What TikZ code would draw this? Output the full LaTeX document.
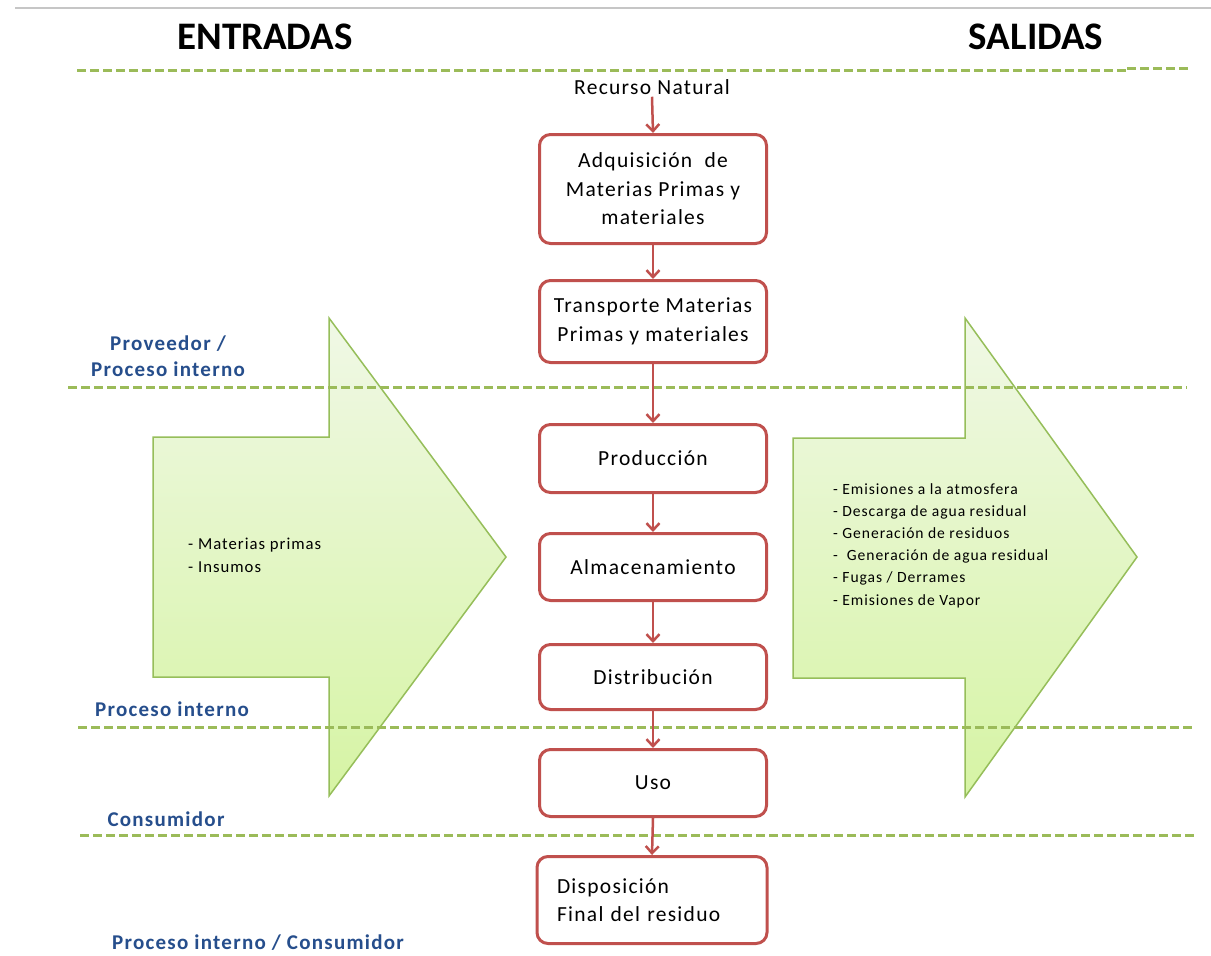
\documentclass[tikz,border=0pt]{standalone}
\usepackage{fontspec}
\setmainfont{Carlito}[LetterSpace=6]
\newfontfamily\titlefont{Carlito}
\usetikzlibrary{arrows.meta}
\definecolor{boxred}{RGB}{192,80,77}
\definecolor{sepgreen}{RGB}{155,187,89}
\definecolor{lblblue}{RGB}{38,78,140}
\definecolor{arrtop}{RGB}{240,248,230}
\definecolor{arrbot}{RGB}{214,244,164}
\definecolor{arredge}{RGB}{150,190,90}
\tikzset{
  stepbox/.style={draw=boxred, line width=3pt, rounded corners=11pt, fill=white,
    minimum width=227pt, inner sep=4pt, align=center,
    font=\fontsize{21.5}{28.5}\selectfont},
  flowarr/.style={draw=boxred, line width=2.5pt, -{Straight Barb[length=7pt,width=13pt,line width=2.5pt]}},
  sepline/.style={draw=sepgreen, line width=3pt, dash pattern=on 9pt off 4pt},
  bigarrow/.style={top color=arrtop, bottom color=arrbot, draw=arredge, line width=1.5pt},
  zonelbl/.style={text=lblblue, font=\bfseries\fontsize{21}{26}\selectfont, align=center, inner sep=0pt},
  title/.style={font=\titlefont\bfseries\fontsize{39}{40}\selectfont, inner sep=0pt},
  listtxt/.style={align=left, anchor=west, inner sep=0pt}
}
\begin{document}
\begin{tikzpicture}[x=1pt,y=-1pt]
\useasboundingbox (0,0) rectangle (1211,956);
\fill[white] (0,0) rectangle (1211,956);

% top rule
\draw[gray!45, line width=1.5pt] (15,8) -- (1211,8);

% titles
\node[title] (entradas) at (265,37) {ENTRADAS};
\node[title] (salidas) at (1036,37) {SALIDAS};

% big green arrows
\shade[bigarrow] (153,437) -- (329,437) -- (329,318) -- (506,557) -- (329,796) -- (329,677) -- (153,677) -- cycle;
\shade[bigarrow] (793,438) -- (965,438) -- (965,318) -- (1137,557) -- (965,797) -- (965,678) -- (793,678) -- cycle;

\node[listtxt, font=\fontsize{16.7}{23}\selectfont] (inputs) at (188,555.5)
  {- Materias primas\\- Insumos};
\node[listtxt, font=\fontsize{15.6}{22.2}\selectfont] (outputs) at (833,545.5)
  {- Emisiones a la atmosfera\\
   - Descarga de agua residual\\
   - Generación de residuos\\
   -~ Generación de agua residual\\
   - Fugas / Derrames\\
   - Emisiones de Vapor};

% separators
\draw[sepline] (77,70) -- (1127,70);
\draw[sepline] (1127,68) -- (1190,68);
\draw[sepline] (68,387) -- (1187,387);
\draw[sepline] (78,727) -- (1195,727);
\draw[sepline] (80,835) -- (1197,835);

% zone labels
\node[zonelbl] (z1) at (168,356) {Proveedor /\\Proceso interno};
\node[zonelbl] (z2) at (172,709) {Proceso interno};
\node[zonelbl] (z3) at (166,819) {Consumidor};
\node[zonelbl] (z4) at (258,943) {Proceso interno / Consumidor};

% flow
\node[font=\fontsize{21.5}{24}\selectfont, inner sep=2pt] (rn) at (652,87) {Recurso Natural};
\node[stepbox, minimum height=109pt] (b1) at (653,189) {Adquisición~ de\\Materias Primas y\\materiales};
\node[stepbox, minimum height=82pt] (b2) at (653,321.5) {Transporte Materias\\Primas y materiales};
\node[stepbox, minimum height=68pt] (b3) at (653,458.5) {Producción};
\node[stepbox, minimum height=67pt] (b4) at (653,567) {Almacenamiento};
\node[stepbox, minimum height=65pt] (b5) at (653,677) {Distribución};
\node[stepbox, minimum height=67pt] (b6) at (653,783) {Uso};
\node[stepbox, minimum height=87pt, text width=190pt, inner xsep=20pt, align=left,
      font=\fontsize{21.5}{28}\selectfont] (b7) at (652,900) {Disposición\\Final del residuo};

\draw[flowarr] (rn.south) -- (b1.north);
\draw[flowarr] (b1.south) -- (b2.north);
\draw[flowarr] (b2.south) -- (b3.north);
\draw[flowarr] (b3.south) -- (b4.north);
\draw[flowarr] (b4.south) -- (b5.north);
\draw[flowarr] (b5.south) -- (b6.north);
\draw[flowarr] (b6.south) -- (b7.north);
\end{tikzpicture}
\end{document}
